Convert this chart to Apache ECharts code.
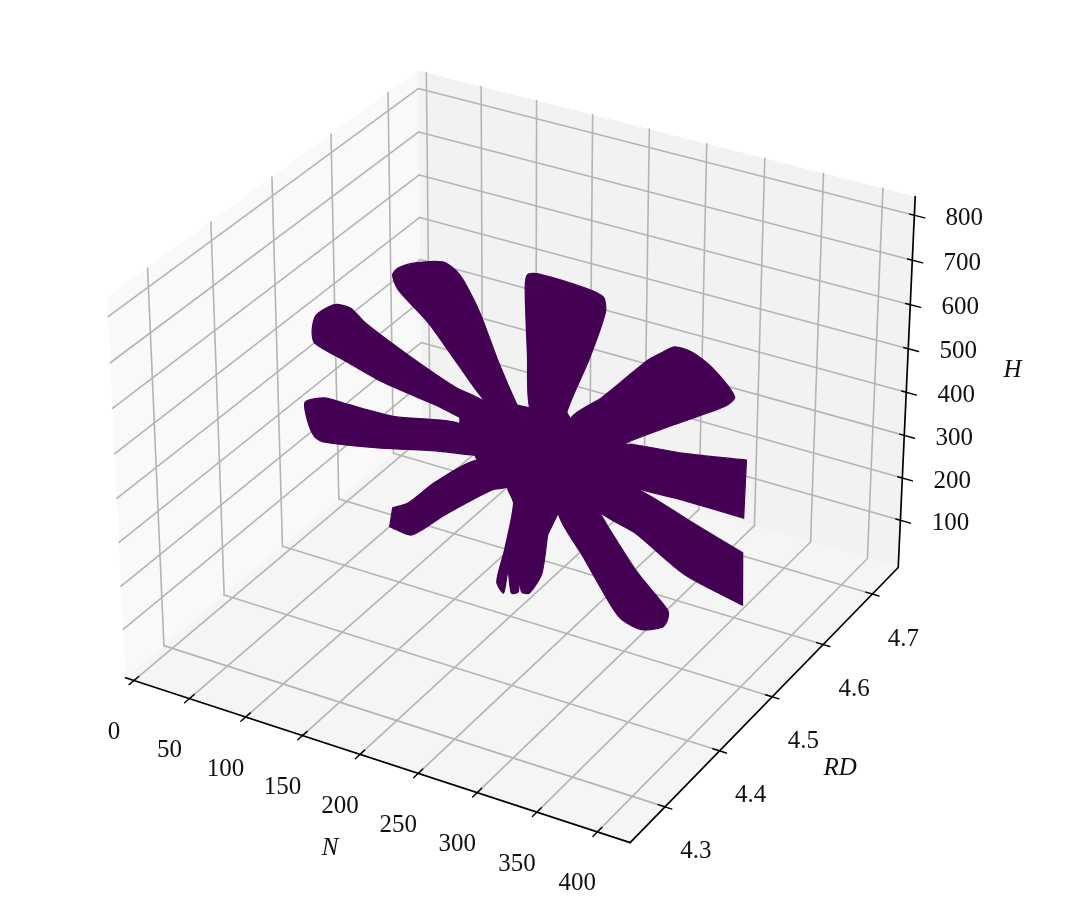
<!DOCTYPE html>
<html lang="en">
<head>
<meta charset="utf-8">
<title>N RD H</title>
<script src="https://cdn.jsdelivr.net/npm/echarts@6/dist/echarts.min.js"></script>
<style>
    html,body{margin:0;padding:0;background:#fff;}
    #main{width:1076px;height:899px;filter:blur(0.7px);}
</style>
</head>
<body>
<div id="main"></div>
<script type="text/javascript">
// tick values of the three axes
var nTicks = [0,50,100,150,200,250,300,350,400];
var rdTicks = [4.3,4.4,4.5,4.6,4.7];
var hTicks = [100,200,300,400,500,600,700,800];
var nRange = [-7.6,426.9];
var rdRange = [4.238,4.754];
var hRange = [-12.9,841.4];

// outline of the point cloud, [N,H] pairs, all taken at RD = cloudRD
var cloudRD = 4.502;
var armA = [[216,431],[205,479],[189,564],[173,663],[159,725],[152,743],[141,753],[117,734],[102,712],[97,693],[102,663],[128,608],[154,532],[179,464]];
var armB = [[182,460],[151,480],[110,522],[72,568],[59,592],[45,590],[28,554],[24,517],[26,489],[53,468],[86,444],[133,426],[182,405]];
var armC = [[155,399],[97,372],[51,369],[34,368],[16,345],[18,301],[24,270],[32,264],[82,288],[133,320],[181,348]];
var armD = [[170,327],[133,248],[108,179],[94,157],[94,157],[91,110],[91,110],[111,106],[141,177],[183,268],[197,286],[208,333]];
var armE = [[197,286],[202,253],[194,137],[187,56],[193,34],[197,88],[200,40],[206,47],[207,88],[209,50],[216,53],[227,109],[234,238],[241,260],[234,330]];
var armF = [[241,260],[263,175],[287,83],[297,56],[314,47],[332,68],[336,88],[336,111],[310,176],[284,262],[275,294],[251,344]];
var armG = [[275,294],[307,266],[350,204],[399,174],[399,174],[398,293],[398,293],[352,331],[321,359],[301,371],[268,380]];
var armH = [[301,371],[346,372],[398,371],[398,371],[399,502],[399,502],[346,477],[298,461],[268,425]];
var armI = [[251,480],[278,551],[316,661],[328,687],[338,706],[352,705],[369,683],[388,633],[380,606],[345,546],[298,463],[268,402]];
var armJ = [[216,481],[214,598],[212,745],[214,776],[223,784],[263,781],[278,772],[280,741],[267,630],[248,496],[251,480],[234,421]];
var hub = [[179,464],[205,479],[216,481],[251,480],[298,463],[301,371],[275,294],[241,260],[221,135],[197,286],[170,327],[155,399],[155,419]];
var arms = [armA,armB,armC,armD,armE,armF,armG,armH,armI,armJ];

// same view as the 3d axes: elev 30, azim -60, dist 10, box 4:4:3
var k = 1.9057/Math.sqrt(41);
var box = [4*k,4*k,3*k];
var ux = [0.8660254,0.5,0], uy = [-0.25,0.4330127,0.8660254], uz = [0.4330127,-0.75,0.5];
var scale = 4856, cx = 519, cy = 438;

function dot(a,b){
    return a[0]*b[0]+a[1]*b[1]+a[2]*b[2];
}
function frac(v,r){
    return (v-r[0])/(r[1]-r[0])-0.5;
}
function proj(n,rd,h){
    var d = [frac(n,nRange)*box[0],frac(rd,rdRange)*box[1],frac(h,hRange)*box[2]];
    var depth = 10-dot(d,uz);
    return [cx+scale*dot(d,ux)/depth, cy-scale*dot(d,uy)/depth];
}

var n0 = nRange[0], n1 = nRange[1], r0 = rdRange[0], r1 = rdRange[1], h0 = hRange[0], h1 = hRange[1];

var leftPane = [proj(n0,r0,h0),proj(n0,r1,h0),proj(n0,r1,h1),proj(n0,r0,h1)];
var rightPane = [proj(n0,r1,h0),proj(n1,r1,h0),proj(n1,r1,h1),proj(n0,r1,h1)];
var floorPane = [proj(n0,r0,h0),proj(n1,r0,h0),proj(n1,r1,h0),proj(n0,r1,h0)];

var gridSegs = [], tickSegs = [], axisSegs = [];
var nSpan = n1-n0, rSpan = r1-r0;
nTicks.forEach(function(v){
    gridSegs.push([proj(v,r0,h0),proj(v,r1,h0)],[proj(v,r1,h0),proj(v,r1,h1)]);
    tickSegs.push([proj(v,r0-0.015*rSpan,h0),proj(v,r0+0.015*rSpan,h0)]);
});
rdTicks.forEach(function(v){
    gridSegs.push([proj(n0,v,h0),proj(n1,v,h0)],[proj(n0,v,h0),proj(n0,v,h1)]);
    tickSegs.push([proj(n1-0.013*nSpan,v,h0),proj(n1+0.013*nSpan,v,h0)]);
});
hTicks.forEach(function(v){
    gridSegs.push([proj(n0,r0,v),proj(n0,r1,v)],[proj(n0,r1,v),proj(n1,r1,v)]);
    tickSegs.push([proj(n1-0.009*nSpan,r1,v),proj(n1+0.02*nSpan,r1,v)]);
});
axisSegs.push([proj(n0,r0,h0),proj(n1,r0,h0)],[proj(n1,r0,h0),proj(n1,r1,h0)],[proj(n1,r1,h0),proj(n1,r1,h1)]);

// [anchor, text, dx, dy, italic]
var labels = [];
nTicks.forEach(function(v){
    labels.push([proj(v,r0,h0),String(v),-20,52,false]);
});
rdTicks.forEach(function(v){
    labels.push([proj(n1,v,h0),v.toFixed(1),31,45,false]);
});
hTicks.forEach(function(v){
    labels.push([proj(n1,r1,v),String(v),50,3,false]);
});
labels.push([proj((n0+n1)/2,r0,h0),'N',-41,90,true]);
labels.push([proj(n1,(r0+r1)/2,h0),'RD',70,70,true]);
labels.push([proj(n1,r1,(h0+h1)/2),'H',106,-16,true]);

function polySeries(polys,fill,z,stroke,smooth){
    return {
        type:'custom',
        coordinateSystem:'cartesian2d',
        silent:true,
        z:z,
        clip:false,
        data:polys.map(function(p,i){return [p[0][0],p[0][1],i];}),
        renderItem:function(params,api){
            var pts = polys[params.dataIndex].map(function(p){return api.coord(p);});
            return {
                type:'polygon',
                shape:{points:pts,smooth:smooth||0},
                style:{fill:fill,stroke:stroke||null,lineWidth:stroke?1.2:0,lineJoin:'round'}
            };
        }
    };
}

function segSeries(segs,color,width,z){
    return {
        type:'custom',
        coordinateSystem:'cartesian2d',
        silent:true,
        z:z,
        clip:false,
        data:segs.map(function(s,i){return [s[0][0],s[0][1],i];}),
        renderItem:function(params,api){
            var s = segs[params.dataIndex];
            var a = api.coord(s[0]), b = api.coord(s[1]);
            return {
                type:'line',
                shape:{x1:a[0],y1:a[1],x2:b[0],y2:b[1]},
                style:{stroke:color,lineWidth:width,lineCap:'round'}
            };
        }
    };
}

var textSeries = {
    type:'custom',
    coordinateSystem:'cartesian2d',
    silent:true,
    z:6,
    clip:false,
    data:labels.map(function(l,i){return [l[0][0],l[0][1],i];}),
    renderItem:function(params,api){
        var l = labels[params.dataIndex];
        var c = api.coord(l[0]);
        return {
            type:'text',
            x:c[0]+l[2],
            y:c[1]+l[3],
            style:{
                text:l[1],
                fill:'#111111',
                font:(l[4]?'italic ':'')+'25px "Liberation Serif"',
                align:'center',
                verticalAlign:'middle'
            }
        };
    }
};

// every outline point placed at RD = cloudRD
function armToPoly(arm){
    return arm.map(function(p){return proj(p[0],cloudRD,p[1]);});
}

var myChart = echarts.init(document.getElementById('main'),null,{renderer:'canvas'});
myChart.setOption({
    animation:false,
    backgroundColor:'#ffffff',
    grid:{left:0,right:0,top:0,bottom:0},
    xAxis:{type:'value',min:0,max:1076,show:false},
    yAxis:{type:'value',min:0,max:899,inverse:true,show:false},
    series:[
        polySeries([leftPane],'#f9f9f9',1),
        polySeries([rightPane],'#f2f2f2',1),
        polySeries([floorPane],'#f5f5f5',1),
        segSeries(gridSegs,'#b4b4b4',1.6,2),
        segSeries(axisSegs,'#000000',1.7,3),
        segSeries(tickSegs,'#000000',1.4,3),
        polySeries(arms.map(armToPoly),'#440154',4,'#440154',0.25),
        polySeries([armToPoly(hub)],'#440154',4,'#440154'),
        textSeries
    ]
});
</script>
</body>
</html>
